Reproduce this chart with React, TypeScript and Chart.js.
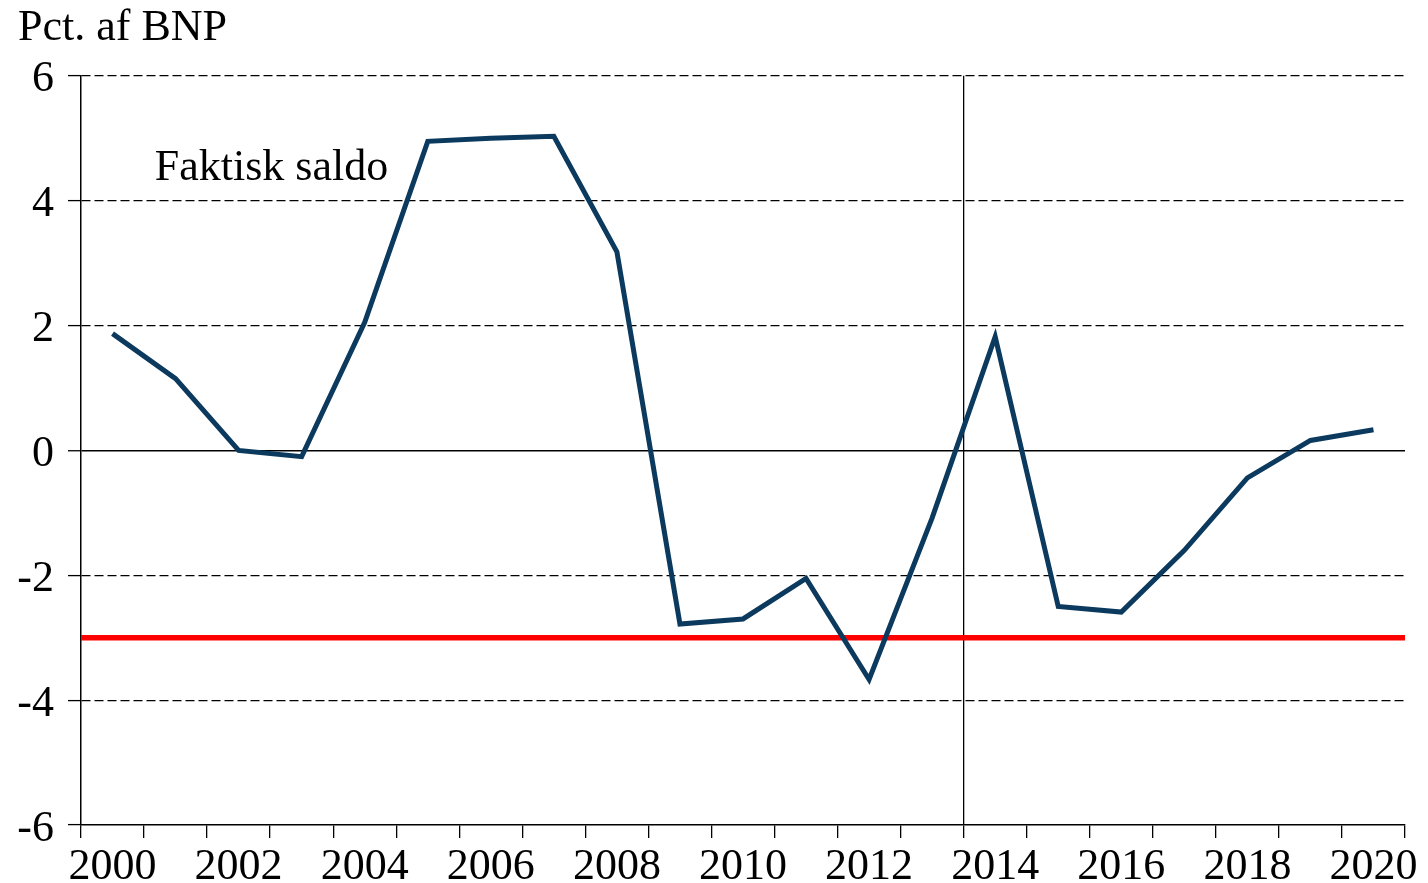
import React, { useEffect, useRef } from "react";
import { Chart, registerables } from "chart.js";

Chart.register(...registerables);

const YEARS: string[] = [
  "2000", "2001", "2002", "2003", "2004", "2005", "2006", "2007", "2008", "2009", "2010",
  "2011", "2012", "2013", "2014", "2015", "2016", "2017", "2018", "2019", "2020",
];

const FAKTISK_SALDO: number[] = [
  1.87, 1.15, 0.0, -0.1, 2.05, 4.95, 5.0, 5.03, 3.18, -2.78, -2.7,
  -2.05, -3.67, -1.08, 1.82, -2.5, -2.59, -1.6, -0.44, 0.16, 0.33,
];

const LIMIT_VALUE = -3;
const Y_TICKS: number[] = [-6, -4, -2, 0, 2, 4, 6];
const VERTICAL_MARK_YEAR = "2014";
const SERIES_LABEL = "Faktisk saldo";
const Y_TITLE = "Pct. af BNP";

const FONT = "'Liberation Serif', 'Times New Roman', serif";

const limitLinePlugin = {
  id: "limitLine",
  beforeDatasetsDraw(chart: any) {
    const { ctx, chartArea, scales } = chart;
    const y = scales.y.getPixelForValue(LIMIT_VALUE);
    ctx.save();
    ctx.strokeStyle = "#ff0000";
    ctx.lineWidth = 5.5;
    ctx.beginPath();
    ctx.moveTo(chartArea.left, y);
    ctx.lineTo(chartArea.right, y);
    ctx.stroke();
    ctx.restore();
  },
};

const seriesLabelPlugin = {
  id: "seriesLabel",
  afterDraw(chart: any) {
    const { ctx, scales } = chart;
    const x = scales.x.getPixelForValue(0.67);
    const y = scales.y.getPixelForValue(4.52);
    ctx.save();
    ctx.font = `44px ${FONT}`;
    ctx.fillStyle = "#000";
    ctx.textAlign = "left";
    ctx.textBaseline = "middle";
    ctx.fillText(SERIES_LABEL, x, y);
    ctx.restore();
  },
};

export default function App() {
  const ref = useRef<HTMLCanvasElement | null>(null);

  useEffect(() => {
    if (!ref.current) return;
    const markIndex = YEARS.indexOf(VERTICAL_MARK_YEAR);
    const chart = new Chart(ref.current, {
      type: "line",
      data: {
        labels: YEARS,
        datasets: [
          {
            label: SERIES_LABEL,
            data: FAKTISK_SALDO,
            borderColor: "#0b3a5e",
            borderWidth: 5,
            pointRadius: 0,
            tension: 0,
            fill: false,
          },
        ],
      },
      options: {
        responsive: false,
        animation: false,
        layout: { padding: { left: 18, right: 23, top: 2, bottom: 0 } },
        plugins: {
          legend: { display: false },
          tooltip: { enabled: false },
          title: {
            display: true,
            text: Y_TITLE,
            align: "start",
            color: "#000",
            font: { family: FONT, size: 44, weight: "normal" },
            padding: { top: 0, bottom: 21 },
          },
        },
        scales: {
          x: {
            type: "category",
            offset: true,
            grid: {
              offset: true,
              drawOnChartArea: true,
              color: (c: any) => (c.index === markIndex ? "#000" : "rgba(0,0,0,0)"),
              lineWidth: 1.3,
              tickColor: "#000",
              tickLength: 13,
              tickWidth: 1.3,
            },
            border: { display: true, color: "#000", width: 1.5 },
            ticks: {
              autoSkip: false,
              maxRotation: 0,
              minRotation: 0,
              color: "#000",
              padding: 3,
              font: { family: FONT, size: 44 },
              callback: (_v: any, i: number) => (i % 2 === 0 ? YEARS[i] : ""),
            },
            afterFit: (s: any) => {
              s.height = 58;
            },
          },
          y: {
            type: "linear",
            min: Y_TICKS[0],
            max: Y_TICKS[Y_TICKS.length - 1],
            afterBuildTicks: (s: any) => {
              s.ticks = Y_TICKS.map((v) => ({ value: v }));
            },
            grid: {
              color: (c: any) =>
                c.tick && c.tick.value === Y_TICKS[0] ? "rgba(0,0,0,0)" : "#000",
              lineWidth: (c: any) => (c.tick && c.tick.value === 0 ? 1.5 : 1.2),
              tickColor: "#000",
              tickLength: 13,
              tickWidth: 1.3,
              tickBorderDash: [],
            },
            border: {
              display: true,
              color: "#000",
              width: 1.5,
              dash: (c: any) => (c.tick && c.tick.value === 0 ? [] : [9, 4]),
            },
            ticks: {
              color: "#000",
              padding: 14,
              labelOffset: 4,
              font: { family: FONT, size: 44 },
              callback: (v: any) => String(v),
            },
            afterFit: (s: any) => {
              s.width = 63;
            },
          },
        },
      },
      plugins: [limitLinePlugin, seriesLabelPlugin],
    } as any);
    return () => chart.destroy();
  }, []);

  return (
    <div style={{ position: "fixed", left: 0, top: 0, width: 1428, height: 883, background: "#fff" }}>
      <canvas ref={ref} width={1428} height={883} style={{ display: "block" }} />
    </div>
  );
}
